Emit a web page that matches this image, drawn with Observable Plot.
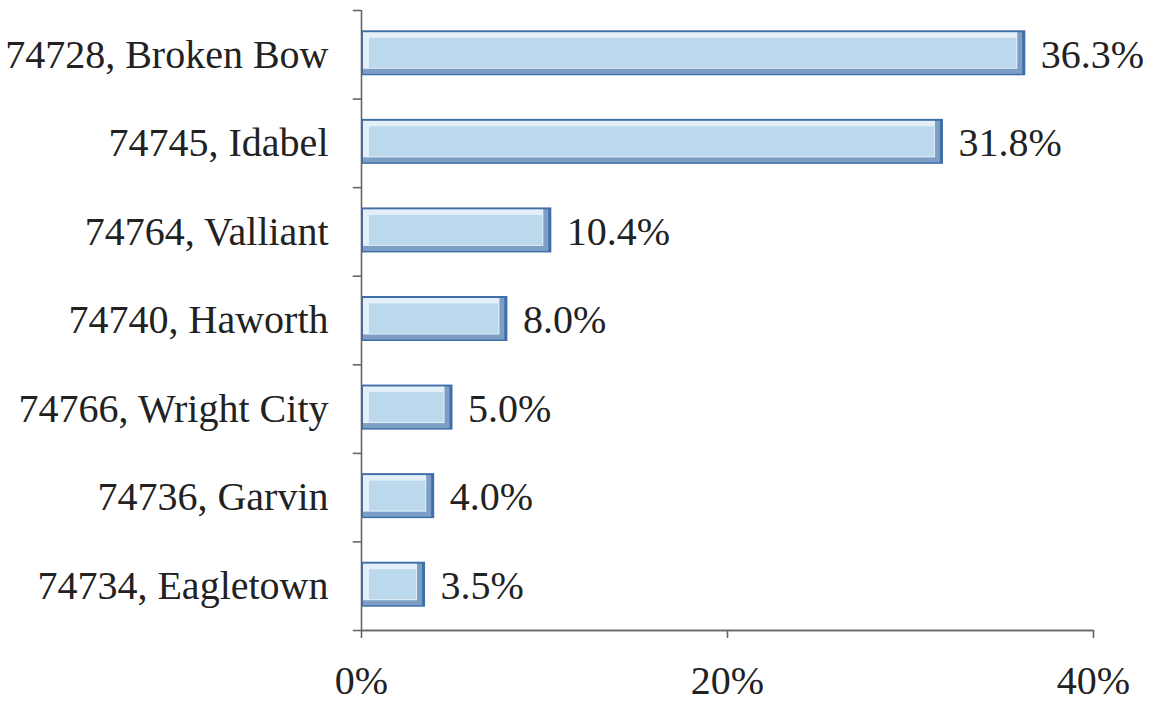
<!DOCTYPE html>
<html>
<head>
<meta charset="utf-8">
<script src="https://cdn.jsdelivr.net/npm/d3@7"></script>
<script src="https://cdn.jsdelivr.net/npm/@observablehq/plot@0.6"></script>
<style>
  html, body { margin: 0; padding: 0; background: #fff; }
  #chart svg { display: block; }
</style>
</head>
<body>
<div id="chart"></div>
<script>
const categories = ["74728, Broken Bow", "74745, Idabel", "74764, Valliant", "74740, Haworth", "74766, Wright City", "74736, Garvin", "74734, Eagletown"];
const values = [36.3, 31.8, 10.4, 8.0, 5.0, 4.0, 3.5];
const xTicks = [0, 20, 40];

const data = categories.map((c, i) => ({zip: c, pct: values[i]}));

const W = 1154, H = 702;
const mTop = 10, mBottom = 72;
const step = (H - mTop - mBottom) / categories.length;
const barH = 45;
const inset = (step - barH) / 2;

const font = "Liberation Serif, Times New Roman, serif";
const rule = {stroke: "#666", strokeWidth: 1.6};

const chart = Plot.plot({
  width: W,
  height: H,
  marginLeft: 361,
  marginRight: 61,
  marginTop: mTop,
  marginBottom: mBottom,
  style: {fontFamily: font, fontSize: "40px", color: "#222", background: "#fff"},
  x: {domain: [0, 40]},
  y: {domain: categories, padding: 0, round: false},
  marks: [
    // bevelled bar: dark outline, shaded edge, light face
    Plot.barX(data, {x: "pct", y: "zip", fill: "#3f6ea8", insetTop: inset - 1.5, insetBottom: inset + 1.5}),
    Plot.barX(data, {x: "pct", y: "zip", fill: "#7d9fc6", insetTop: inset + 0.5, insetBottom: inset + 3, insetLeft: 2, insetRight: 3}),
    Plot.barX(data, {x: "pct", y: "zip", fill: "#e3f0f9", insetTop: inset + 0.5, insetBottom: inset + 8, insetLeft: 2, insetRight: 8}),
    Plot.barX(data, {x: "pct", y: "zip", fill: "#bcd8ec", insetTop: inset + 6, insetBottom: inset + 9, insetLeft: 8, insetRight: 9}),
    Plot.text(data, {x: "pct", y: "zip", text: d => d.pct.toFixed(1) + "%", textAnchor: "start", dx: 15, fill: "#222", fontSize: 40}),
    Plot.ruleX([0], rule),
    Plot.ruleY(categories, {y: d => d, x1: -0.45, x2: 0, dy: step / 2, ...rule}),
    Plot.ruleY(categories.slice(0, 1), {y: d => d, x1: -0.45, x2: 0, dy: -step / 2, ...rule}),
    Plot.axisY({tickSize: 0, tickPadding: 33, label: null, fontSize: 40, fill: "#222"}),
    Plot.axisX({ticks: xTicks, tickFormat: d => d + "%", tickSize: 8, tickPadding: 27, label: null, stroke: "#666", strokeWidth: 1.6, fontSize: 40, fill: "#222"}),
    Plot.tickY(xTicks.slice(0, 1), {x1: 0, x2: 40, y: () => categories[categories.length - 1], dy: step / 2, ...rule}),
    Plot.lineY(xTicks, {x: d => d, y: () => categories[categories.length - 1], dy: step / 2, ...rule})
  ]
});
document.getElementById("chart").appendChild(chart);
</script>
</body>
</html>
